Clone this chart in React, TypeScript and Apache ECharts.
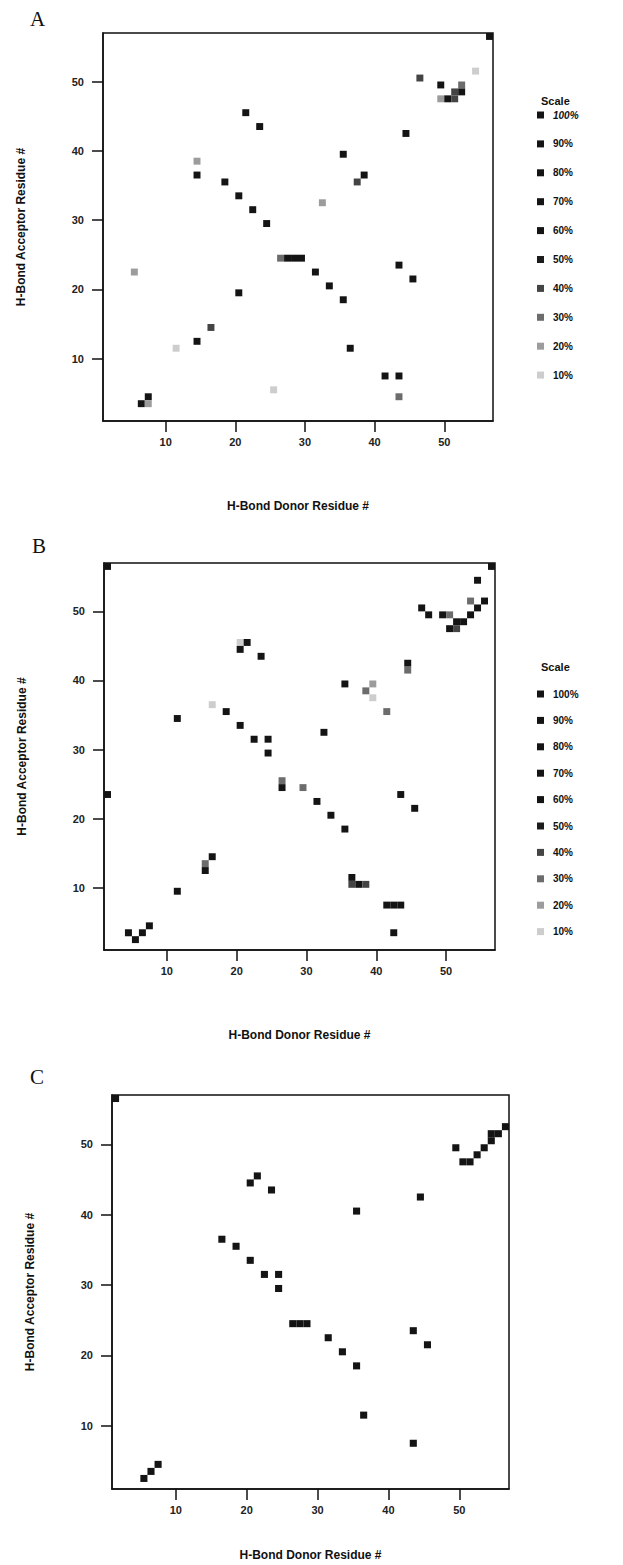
import React, { useEffect, useRef } from "react";
import * as echarts from "echarts";

const AXIS_MIN = 1;
const AXIS_MAX = 57;
const tickValues = [10, 20, 30, 40, 50];
const scaleLevels = [100, 90, 80, 70, 60, 50, 40, 30, 20, 10];
const panelLetters = ["A", "B", "C"];
const xTitle = "H-Bond Donor Residue #";
const yTitle = "H-Bond Acceptor Residue #";

// [donor residue, acceptor residue, occupancy %]
const cellsA: [number, number, number][] = [
  [56, 56, 100], [54, 51, 10], [46, 50, 40], [49, 49, 100], [52, 49, 30],
  [51, 48, 40], [52, 48, 100], [49, 47, 20], [50, 47, 100], [51, 47, 40],
  [21, 45, 100], [23, 43, 100], [44, 42, 100], [35, 39, 100], [14, 38, 20],
  [14, 36, 100], [38, 36, 100], [37, 35, 40], [18, 35, 100], [20, 33, 100],
  [32, 32, 20], [22, 31, 100], [24, 29, 100], [26, 24, 30], [27, 24, 100],
  [28, 24, 100], [29, 24, 100], [31, 22, 100], [5, 22, 20], [43, 23, 100],
  [45, 21, 100], [33, 20, 100], [20, 19, 100], [35, 18, 100], [16, 14, 40],
  [14, 12, 100], [36, 11, 100], [11, 11, 10], [41, 7, 100], [43, 7, 100],
  [7, 4, 100], [6, 3, 100], [7, 3, 20], [25, 5, 10], [43, 4, 30],
];

const cellsB: [number, number, number][] = [
  [1, 56, 100], [56, 56, 100], [54, 54, 100], [46, 50, 100], [47, 49, 100],
  [49, 49, 100], [50, 49, 30], [53, 51, 30], [55, 51, 100], [54, 50, 100],
  [53, 49, 100], [51, 48, 100], [52, 48, 100], [50, 47, 100], [51, 47, 40],
  [20, 45, 10], [21, 45, 100], [20, 44, 100], [23, 43, 100], [44, 42, 100],
  [44, 41, 30], [35, 39, 100], [39, 39, 20], [38, 38, 30], [39, 37, 10],
  [16, 36, 10], [18, 35, 100], [11, 34, 100], [41, 35, 30], [20, 33, 100],
  [32, 32, 100], [22, 31, 100], [24, 31, 100], [24, 29, 100], [26, 25, 30],
  [26, 24, 100], [29, 24, 30], [1, 23, 100], [43, 23, 100], [31, 22, 100],
  [45, 21, 100], [33, 20, 100], [35, 18, 100], [16, 14, 100], [15, 13, 30],
  [15, 12, 100], [36, 11, 100], [36, 10, 40], [37, 10, 100], [38, 10, 40],
  [11, 9, 100], [41, 7, 100], [42, 7, 100], [43, 7, 100], [42, 3, 100],
  [4, 3, 100], [5, 2, 100], [6, 3, 100], [7, 4, 100],
];

const cellsC: [number, number, number][] = [
  [1, 56, 100], [56, 52, 100], [54, 51, 100], [55, 51, 100], [54, 50, 100],
  [53, 49, 100], [49, 49, 100], [52, 48, 100], [50, 47, 100], [51, 47, 100],
  [21, 45, 100], [20, 44, 100], [23, 43, 100], [44, 42, 100], [35, 40, 100],
  [16, 36, 100], [18, 35, 100], [20, 33, 100], [22, 31, 100], [24, 31, 100],
  [24, 29, 100], [26, 24, 100], [27, 24, 100], [28, 24, 100], [43, 23, 100],
  [31, 22, 100], [45, 21, 100], [33, 20, 100], [35, 18, 100], [36, 11, 100],
  [43, 7, 100], [7, 4, 100], [6, 3, 100], [5, 2, 100],
];

const panels = [cellsA, cellsB, cellsC];

function shade(p: number): string {
  if (p >= 60) return "#141414";
  if (p >= 50) return "#1c1c1c";
  if (p >= 40) return "#444444";
  if (p >= 30) return "#6c6c6c";
  if (p >= 20) return "#9c9c9c";
  return "#cdcdcd";
}

const grids = [
  { left: 103, top: 33, width: 390, height: 388 },
  { left: 104, top: 563, width: 391, height: 387 },
  { left: 112, top: 1095, width: 397, height: 394 },
];

const legendPos = [
  { x: 537, titleY: 101, firstY: 115, step: 28.9, italicTop: true },
  { x: 537, titleY: 667, firstY: 694, step: 26.4, italicTop: false },
];

const letterPos = [
  { x: 30, y: 8 },
  { x: 32, y: 535 },
  { x: 30, y: 1066 },
];

const FONT = "'Liberation Sans', Arial, sans-serif";

export default function App() {
  const ref = useRef<HTMLDivElement>(null);
  useEffect(() => {
    document.body.style.margin = "0";
    const chart = echarts.init(ref.current!, null, { renderer: "svg" });

    const xAxes = grids.map((_, i) => ({
      type: "value",
      gridIndex: i,
      min: AXIS_MIN,
      max: AXIS_MAX,
      name: xTitle,
      nameLocation: "middle",
      nameGap: i === 2 ? 60 : 79,
      nameTextStyle: { fontFamily: FONT, fontWeight: "bold", fontSize: 12, color: "#111" },
      axisLine: { show: true, lineStyle: { color: "#111", width: 1.5 } },
      axisTick: { show: true, customValues: tickValues, length: 11, lineStyle: { color: "#111", width: 1.5 } },
      axisLabel: { customValues: tickValues, fontFamily: FONT, fontSize: 11, fontWeight: "bold", color: "#222", margin: 15 },
      splitLine: { show: false },
    }));
    const yAxes = grids.map((_, i) => ({
      type: "value",
      gridIndex: i,
      min: AXIS_MIN,
      max: AXIS_MAX,
      name: yTitle,
      nameLocation: "middle",
      nameRotate: 90,
      nameGap: 76,
      nameTextStyle: { fontFamily: FONT, fontWeight: "bold", fontSize: 12, color: "#111" },
      axisLine: { show: true, lineStyle: { color: "#111", width: 1.5 } },
      axisTick: { show: true, customValues: tickValues, length: 11, lineStyle: { color: "#111", width: 1.5 } },
      axisLabel: { customValues: tickValues, fontFamily: FONT, fontSize: 11, fontWeight: "bold", color: "#222", margin: 19 },
      splitLine: { show: false },
    }));

    const series = panels.map((cells, i) => ({
      type: "custom",
      xAxisIndex: i,
      yAxisIndex: i,
      data: cells,
      clip: true,
      renderItem: (params: any, api: any) => {
        const x = api.value(0);
        const y = api.value(1);
        const p0 = api.coord([x, y + 1]);
        const p1 = api.coord([x + 1, y]);
        return {
          type: "rect",
          shape: { x: p0[0], y: p0[1], width: p1[0] - p0[0], height: p1[1] - p0[1] },
          style: { fill: shade(api.value(2)) },
        };
      },
    }));

    const graphics: any[] = [];
    panelLetters.forEach((letter, i) => {
      graphics.push({
        type: "text",
        left: letterPos[i].x,
        top: letterPos[i].y,
        style: { text: letter, fontFamily: "'Liberation Serif', 'Times New Roman', serif", fontSize: 21, fill: "#111" },
      });
    });
    legendPos.forEach((lp) => {
      graphics.push({
        type: "text",
        x: lp.x + 4,
        y: lp.titleY,
        style: { text: "Scale", fontFamily: FONT, fontWeight: "bold", fontSize: 11, fill: "#111", verticalAlign: "middle" },
      });
      scaleLevels.forEach((lvl, k) => {
        const cy = lp.firstY + k * lp.step;
        graphics.push({
          type: "rect",
          shape: { x: lp.x, y: cy - 3.5, width: 7, height: 7 },
          style: { fill: shade(lvl) },
        });
        graphics.push({
          type: "text",
          x: lp.x + 16,
          y: cy,
          style: {
            text: lvl + "%",
            fontFamily: FONT,
            fontWeight: "bold",
            fontStyle: lp.italicTop && k === 0 ? "italic" : "normal",
            fontSize: 10,
            fill: "#111",
            verticalAlign: "middle",
          },
        });
      });
    });

    chart.setOption({
      animation: false,
      backgroundColor: "#ffffff",
      grid: grids.map((g) => ({ ...g, show: true, borderColor: "#111", borderWidth: 1.5, containLabel: false })),
      xAxis: xAxes,
      yAxis: yAxes,
      series,
      graphic: graphics,
    });
    return () => chart.dispose();
  }, []);
  return <div ref={ref} style={{ position: "absolute", left: 0, top: 0, width: 623, height: 1565 }} />;
}
